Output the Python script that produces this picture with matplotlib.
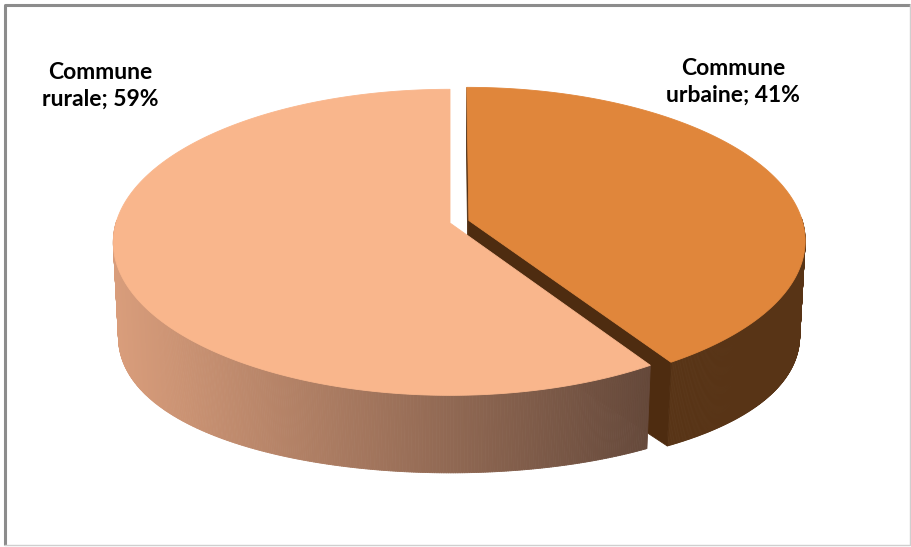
import numpy as np
import matplotlib
matplotlib.use("Agg")
import matplotlib.pyplot as plt
from matplotlib.patches import Polygon
from matplotlib.collections import PolyCollection

# Share of population by type of commune
categories = ["Commune urbaine", "Commune rurale"]
values = [41, 59]
explode = [0.059, 0.0]

top_colors = ["#E0863B", "#F9B68C"]
radial_colors = ["#4E2C10", "#5A3A2A"]
# side wall shading, interpolated left -> right across the wall
wall_left = [np.array([104, 62, 28]), np.array([218, 158, 124])]
wall_right = [np.array([88, 52, 22]), np.array([100, 72, 58])]

W, H = 912, 547
fig = plt.figure(figsize=(W / 100, H / 100), dpi=100)
ax = fig.add_axes([0, 0, 1, 1])
ax.set_xlim(0, W)
ax.set_ylim(H, 0)
ax.axis("off")

# 3-D projection of a unit-radius pie seen from above with perspective
cx, cy, S = 450.0, 223.0, 334.0
elev = np.radians(26.8)
sn, cs = np.sin(elev), np.cos(elev)
D = 7.07
depth = 0.24
side_extra = 24.0   # extra wall drop toward the left/right flanks (px)
cam = np.array([0.0, D * cs, D * sn])


def project(X, Y, Z):
    X, Y, Z = np.asarray(X, float), np.asarray(Y, float), np.asarray(Z, float)
    up = Z * cs - Y * sn
    d = Z * sn + Y * cs
    k = D / (D - d)
    flank = side_extra * np.clip(1 - Y ** 2, 0, 1) * (-Z / depth)
    return cx + S * X * k, cy - S * up * k + flank


def rim(theta_deg, off, z):
    t = np.radians(theta_deg)
    return project(np.cos(t) + off[0], -np.sin(t) + off[1], np.full_like(t, z))


# slice angle ranges: clockwise from 12 o'clock
total = float(sum(values))
slices = []
start = 90.0
for i, v in enumerate(values):
    sweep = 360.0 * v / total
    a_hi, a_lo = start, start - sweep
    mid = np.radians((a_hi + a_lo) / 2)
    off = (explode[i] * np.cos(mid), -explode[i] * np.sin(mid))
    slices.append(dict(i=i, lo=a_lo, hi=a_hi, off=off, front=-np.sin(mid)))
    start = a_lo

# paint back slices first
for sl in sorted(slices, key=lambda s: s["front"]):
    i, lo, hi, off = sl["i"], sl["lo"], sl["hi"], sl["off"]
    th = np.linspace(lo, hi, 600)

    # outer side wall (front half only)
    mask = np.sin(np.radians(th)) <= 0.02
    idx = np.where(mask)[0]
    if idx.size > 1:
        runs = np.split(idx, np.where(np.diff(idx) > 1)[0] + 1)
        for run in runs:
            if run.size < 2:
                continue
            tt = th[run]
            xt, yt = rim(tt, off, 0.0)
            xb, yb = rim(tt, off, -depth)
            polys, cols = [], []
            x0, x1 = cx - S * 1.02, cx + S * 0.62
            for j in range(len(tt) - 1):
                polys.append([(xt[j], yt[j]), (xt[j + 1], yt[j + 1]),
                              (xb[j + 1], yb[j + 1]), (xb[j], yb[j])])
                f = np.clip((xt[j] - x0) / (x1 - x0), 0, 1)
                c = (wall_left[i] * (1 - f) + wall_right[i] * f) / 255.0
                cols.append(c)
            ax.add_collection(PolyCollection(polys, facecolors=cols,
                                             edgecolors=cols, linewidths=0.6))

    # radial cut faces
    for edge, sign in ((lo, 1.0), (hi, -1.0)):
        t = np.radians(edge)
        n = sign * np.array([np.sin(t), np.cos(t), 0.0])
        p = np.array([off[0] + 0.5 * np.cos(t), off[1] - 0.5 * np.sin(t), -depth / 2])
        if np.dot(n, cam - p) <= 0:
            continue
        rx, ry = np.cos(t) + off[0], -np.sin(t) + off[1]
        px, py = project([off[0], rx, rx, off[0]], [off[1], ry, ry, off[1]],
                         [0, 0, -depth, -depth])
        ax.add_patch(Polygon(np.column_stack([px, py]), closed=True,
                             facecolor=radial_colors[i], edgecolor=radial_colors[i],
                             linewidth=0.6))

    # top face
    xt, yt = rim(th, off, 0.0)
    vx0, vy0 = project(off[0], off[1], 0.0)
    pts = np.vstack([[vx0, vy0], np.column_stack([xt, yt])])
    ax.add_patch(Polygon(pts, closed=True, facecolor=top_colors[i],
                         edgecolor=top_colors[i], linewidth=0.6))

# data labels
label_pos = [(733, 82), (100, 86)]
for cat, v, (lx, ly) in zip(categories, values, label_pos):
    text = cat.replace(" ", "\n", 1) + f"; {v}%"
    ax.text(lx, ly, text, ha="center", va="center", fontsize=16.5,
            fontweight="bold", family=["Lato", "DejaVu Sans"],
            linespacing=1.35, color="black")

# chart frame
ax.plot([5, 5, 910], [545, 5, 5], color="#8C8C8C", lw=2.2, solid_capstyle="butt")
ax.plot([5, 910, 910], [545, 545, 5], color="#CFCFCF", lw=1.0)

fig.savefig("out.png", dpi=100)
